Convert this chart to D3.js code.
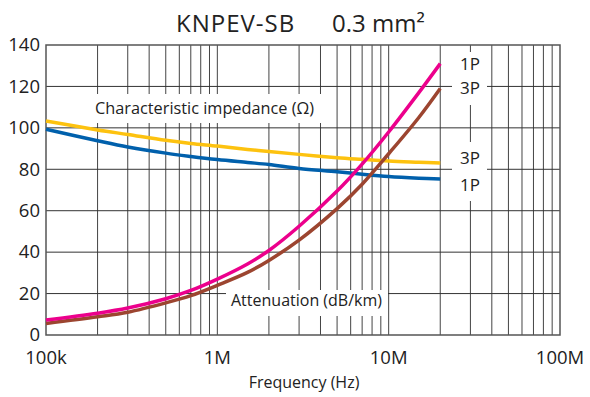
<!DOCTYPE html>
<html>
<head>
<meta charset="utf-8">
<script src="https://cdn.jsdelivr.net/npm/d3@7"></script>
<style>
  body { margin: 0; background: #fff; }
  text { font-family: "Open Sans", "Noto Sans", sans-serif; fill: #222; }
</style>
</head>
<body>
<svg id="chart" width="590" height="397"></svg>
<script>
// values
const freqs = [1e5, 2e5, 3e5, 5e5, 7e5, 1e6, 1.5e6, 2e6, 3e6, 5e6, 7e6, 1e7, 1.5e7, 2e7];
const impedance3P = [103.3, 99, 96.8, 94, 92.5, 91.2, 89.6, 88.6, 87.2, 85.6, 84.8, 84, 83.4, 83];
const impedance1P = [99.3, 93.8, 90.8, 87.8, 86.2, 84.7, 83.3, 82.3, 80.4, 78.8, 77.6, 76.5, 75.7, 75.3];
const attenuation1P = [7.2, 10.5, 13, 17.5, 21.5, 27, 34.3, 40.8, 52.5, 69.5, 82.5, 98, 117, 131];
const attenuation3P = [5.6, 8.8, 11, 15.5, 19, 24, 30.2, 36, 45.8, 61, 72.8, 87.5, 105, 119];
const yTicks = [0, 20, 40, 60, 80, 100, 120, 140];
const xTicks = [1e5, 1e6, 1e7, 1e8];
const xTickLabels = ['100k', '1M', '10M', '100M'];

const margin = {top: 45, right: 30, bottom: 62, left: 46};
const width = 590 - margin.left - margin.right;
const height = 397 - margin.top - margin.bottom;

const svg = d3.select('#chart');
const g = svg.append('g').attr('transform', `translate(${margin.left},${margin.top})`);

const x = d3.scaleLog().domain([1e5, 1e8]).range([0, width]);
const y = d3.scaleLinear().domain([0, 140]).range([height, 0]);

// minor + major vertical grid
const gridX = [];
[1e5, 1e6, 1e7].forEach(dec => { for (let k = 1; k <= 9; k++) gridX.push(dec * k); });
g.selectAll('.vgrid').data(gridX.slice(1)).enter().append('line')
  .attr('x1', d => x(d)).attr('x2', d => x(d))
  .attr('y1', 0).attr('y2', height)
  .attr('stroke', '#444').attr('stroke-width', 1);
g.selectAll('.hgrid').data(yTicks.slice(1, -1)).enter().append('line')
  .attr('x1', 0).attr('x2', width)
  .attr('y1', d => y(d)).attr('y2', d => y(d))
  .attr('stroke', '#333').attr('stroke-width', 1);

// white boxes behind the labels
const boxes = [
  {x: 92, y: 94, w: 233, h: 29},
  {x: 226, y: 290, w: 162, h: 26},
  {x: 452, y: 52, w: 35, h: 53},
  {x: 452, y: 142, w: 35, h: 59}
];
svg.selectAll('.box').data(boxes).enter().append('rect')
  .attr('x', d => d.x).attr('y', d => d.y)
  .attr('width', d => d.w).attr('height', d => d.h)
  .attr('fill', '#fff');

// frame
g.append('rect').attr('width', width).attr('height', height)
  .attr('fill', 'none').attr('stroke', '#555').attr('stroke-width', 1.5);

const series = [
  {values: impedance3P, color: '#fdc20f'},
  {values: impedance1P, color: '#0060ac'},
  {values: attenuation3P, color: '#9c4530'},
  {values: attenuation1P, color: '#ec008c'}
];
const line = d3.line()
  .x((d, i) => x(freqs[i]))
  .y(d => y(d))
  .curve(d3.curveCatmullRom);
g.selectAll('.curve').data(series).enter().append('path')
  .attr('fill', 'none')
  .attr('stroke', d => d.color)
  .attr('stroke-width', 3.5)
  .attr('d', d => line(d.values));

// axes labels
g.selectAll('.ylab').data(yTicks).enter().append('text')
  .attr('x', -6).attr('y', d => y(d))
  .attr('dy', '0.34em')
  .attr('text-anchor', 'end')
  .style('font-size', '18.5px')
  .text(d => d);
g.selectAll('.xlab').data(xTicks).enter().append('text')
  .attr('x', d => x(d)).attr('y', height + 29)
  .attr('text-anchor', 'middle')
  .style('font-size', '18.5px')
  .text((d, i) => xTickLabels[i]);

svg.append('text')
  .attr('x', margin.left + width / 2 + 1).attr('y', 388)
  .attr('text-anchor', 'middle')
  .style('font-size', '16px')
  .text('Frequency (Hz)');

// title
svg.append('text').attr('x', 176).attr('y', 32)
  .style('font-size', '24px').style('letter-spacing', '1px').text('KNPEV-SB');
svg.append('text').attr('x', 332).attr('y', 32)
  .style('font-size', '24px').text('0.3 mm²');

// curve labels
svg.append('text').attr('x', 95).attr('y', 114)
  .style('font-size', '16.3px').text('Characteristic impedance (Ω)');
svg.append('text').attr('x', 231).attr('y', 306)
  .style('font-size', '16px').text('Attenuation (dB/km)');
const sideLabels = [['1P', 70], ['3P', 94], ['3P', 164], ['1P', 191]];
svg.selectAll('.side').data(sideLabels).enter().append('text')
  .attr('x', 470).attr('y', d => d[1])
  .attr('text-anchor', 'middle')
  .style('font-size', '17px')
  .text(d => d[0]);
</script>
</body>
</html>
